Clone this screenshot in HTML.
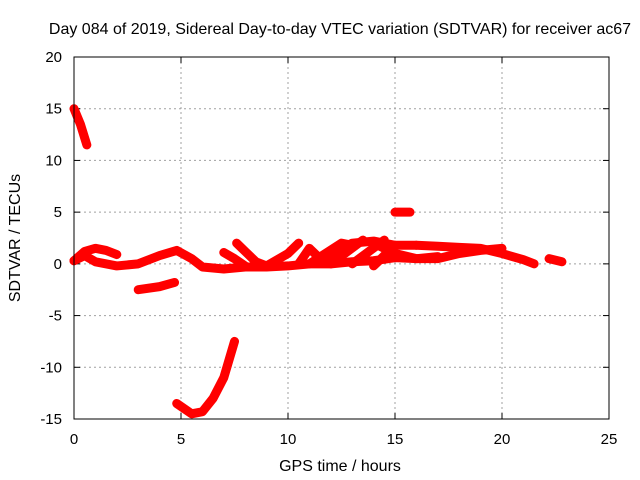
<!DOCTYPE html>
<html><head><meta charset="utf-8"><style>
body{margin:0;background:#fff}
svg{display:block;font-family:"Liberation Sans",sans-serif}
</style></head><body>
<svg id="c" width="640" height="480">
<text x="340" y="34" text-anchor="middle" font-size="16">Day 084 of 2019, Sidereal Day-to-day VTEC variation (SDTVAR) for receiver ac67</text>
<text x="340" y="471" text-anchor="middle" font-size="16">GPS time / hours</text>
<text transform="translate(20,238) rotate(-90)" text-anchor="middle" font-size="16">SDTVAR / TECUs</text>
<g id="grid"></g><g id="series"></g>
<rect x="74" y="57" width="535" height="362" fill="none" stroke="#000"/>
</svg>
<script>
const xTicks=[0,5,10,15,20,25];
const yTicks=[-15,-10,-5,0,5,10,15,20];
const s1=[[0,15],[0.3,13.5],[0.6,11.5]];
const s2=[[0,0.3],[0.5,0.8],[1,0.2],[2,-0.2],[3,0],[4,0.8],[4.8,1.3],[5.5,0.5],[6,-0.3],[7,-0.5],[8,-0.3],[9,-0.3],[10,-0.2],[11,0],[12,0],[13,0.2],[14,0.3],[15,0.6],[16,0.5],[17,0.7]];
const s3=[[0,0.3],[0.5,1.2],[1,1.5],[1.5,1.3],[2,0.9]];
const s4=[[3,-2.5],[4,-2.2],[4.7,-1.8]];
const s5=[[4.8,-13.5],[5.5,-14.5],[6,-14.3],[6.5,-13],[7,-11],[7.5,-7.5]];
const s6=[[7,1.1],[7.5,0.5],[8,-0.2]];
const s6b=[[7.6,2],[8,1.2],[8.5,0.2],[9,-0.2]];
const s7=[[9,-0.2],[10,1],[10.5,2]];
const s7b=[[10.5,0],[11,1.5],[11.5,0.5],[12,0.3]];
const s7c=[[11,0],[12.5,2],[13,1.8]];
const s7d=[[12,0],[13.5,2.3]];
const s7e=[[13,0],[14.5,2.3]];
const s7f=[[14,-0.2],[15,1.8]];
const s8=[[12,1],[13,2],[14,2.2],[15,1.8],[16,1.8]];
const s9=[[15,5],[15.7,5]];
const s10=[[16,1.8],[17,1.7],[18,1.6],[19,1.5],[20,1],[21,0.4],[21.5,0]];
const s11=[[14,2],[15,1],[16,0.5],[17,0.5],[18,1],[19,1.3],[20,1.5]];
const s12=[[22.2,0.5],[22.8,0.2]];
const allSeries=[s1,s2,s3,s4,s5,s6,s6b,s7,s7b,s7c,s7d,s7e,s7f,s8,s9,s10,s11,s12];
const X=h=>74+h*(535/25), Y=v=>419-(v+15)*(362/35);
const NS="http://www.w3.org/2000/svg";
const g=document.getElementById('grid'), sg=document.getElementById('series');
function mk(t,a,p){const e=document.createElementNS(NS,t);for(const k in a)e.setAttribute(k,a[k]);p.appendChild(e);return e;}
xTicks.forEach(t=>{
 if(t>0&&t<25){const l=mk('line',{x1:X(t),x2:X(t),y1:57,y2:419,stroke:'#a0a0a0','stroke-dasharray':'2,3'},g);
 
 }
 mk('line',{x1:X(t),x2:X(t),y1:419,y2:413,stroke:'#000'},g);
 mk('line',{x1:X(t),x2:X(t),y1:57,y2:63,stroke:'#000'},g);
 const tx=mk('text',{x:X(t),y:444,'text-anchor':'middle','font-size':15},g);tx.textContent=t;
 
 
});
yTicks.forEach(t=>{
 if(t>-15&&t<20){const l=mk('line',{x1:74,x2:609,y1:Y(t),y2:Y(t),stroke:'#a0a0a0','stroke-dasharray':'2,3'},g);
 
 }
 mk('line',{x1:74,x2:80,y1:Y(t),y2:Y(t),stroke:'#000'},g);
 mk('line',{x1:609,x2:603,y1:Y(t),y2:Y(t),stroke:'#000'},g);
 const tx=mk('text',{x:62,y:Y(t)+5,'text-anchor':'end','font-size':15},g);tx.textContent=t;
 
 
});
allSeries.forEach(s=>{
 const p=mk('polyline',{points:s.map(d=>X(d[0])+','+Y(d[1])).join(' '),fill:'none',stroke:'#ff0000','stroke-width':9,'stroke-linejoin':'round','stroke-linecap':'round'},sg);
 
 
});
</script>
</body></html>
